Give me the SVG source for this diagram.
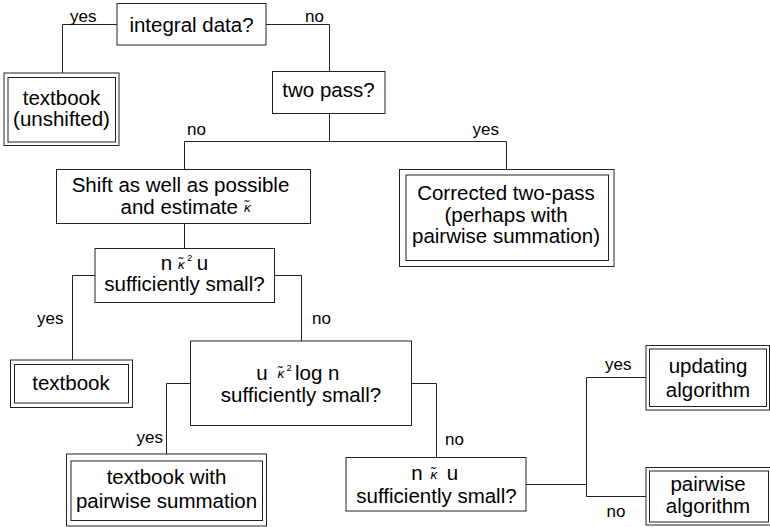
<svg xmlns="http://www.w3.org/2000/svg" width="770" height="527" viewBox="0 0 770 527">
<style>
rect{fill:#fff;stroke:#222;stroke-width:1}
.c path{fill:none;stroke:#222;stroke-width:1}
text{font-family:"Liberation Sans",Arial,sans-serif;fill:#000}
.t{font-size:20.5px;text-anchor:middle}
.l{font-size:17px}
.k{font-size:13.5px;font-style:italic}
.s{font-size:9.5px}
</style>
<rect x="0" y="0" width="770" height="527" style="stroke:none"/>
<g class="c" id="connectors">
<path d="M117,24.5H62.5V73"/>
<path d="M266,24.5H329.5V71.5"/>
<path d="M329.5,113.5V141.5"/>
<path d="M184.5,141.5H506.5V169.5"/>
<path d="M184.5,141.5V169.5"/>
<path d="M184.5,223.5V248.5"/>
<path d="M95,275.5H72.5V360"/>
<path d="M274.5,275.5H301.5V341"/>
<path d="M190.5,383.5H166.5V454"/>
<path d="M411.5,383.5H436.5V457.5"/>
<path d="M526,484.5H586.5"/>
<path d="M646,377.5H586.5V496.5H646"/>
</g>
<g id="labels">
<text class="l" x="70" y="21.5">yes</text>
<text class="l" x="305" y="21.5">no</text>
<text class="l" x="187" y="135">no</text>
<text class="l" x="472.5" y="134.5">yes</text>
<text class="l" x="37" y="323.5">yes</text>
<text class="l" x="312" y="323.5">no</text>
<text class="l" x="136.5" y="443">yes</text>
<text class="l" x="445" y="445">no</text>
<text class="l" x="605" y="369.5">yes</text>
<text class="l" x="606.5" y="517">no</text>
</g>
<g id="integral">
<rect x="117" y="3.5" width="149" height="41.5"/>
<text class="t" x="191.5" y="31.5">integral data?</text>
</g>
<g id="textbook-unshifted">
<rect x="4" y="73" width="115" height="72.5"/>
<rect x="8" y="77.5" width="107.5" height="64.5"/>
<text class="t" x="61.5" y="104.5">textbook</text>
<text class="t" x="61.5" y="126">(unshifted)</text>
</g>
<g id="two-pass">
<rect x="272.5" y="71.5" width="112.5" height="42"/>
<text class="t" x="328.5" y="97">two pass?</text>
</g>
<g id="shift">
<rect x="56.5" y="169.5" width="254" height="54"/>
<text class="t" x="180.5" y="191.5">Shift as well as possible</text>
<text class="t" x="120.5" y="213.5" style="text-anchor:start">and estimate</text>
<text class="k" x="244" y="212">κ̃</text>
</g>
<g id="corrected">
<rect x="399.5" y="169.5" width="214.5" height="97"/>
<rect x="406" y="175" width="202.5" height="85.5"/>
<text class="t" x="506" y="200">Corrected two-pass</text>
<text class="t" x="506" y="221.7">(perhaps with</text>
<text class="t" x="506" y="243.3">pairwise summation)</text>
</g>
<g id="nk2u">
<rect x="95" y="248.5" width="179.5" height="54"/>
<text class="t" x="166.5" y="270">n</text>
<text class="k" x="178" y="268.5">κ̃</text>
<text class="s" x="187" y="261">2</text>
<text class="t" x="202.5" y="270">u</text>
<text class="t" x="184.5" y="291">sufficiently small?</text>
</g>
<g id="textbook">
<rect x="10.5" y="360" width="122" height="47.5"/>
<rect x="14.5" y="364.5" width="114" height="38.5"/>
<text class="t" x="71" y="389.5">textbook</text>
</g>
<g id="uk2logn">
<rect x="190.5" y="341" width="221" height="84.5"/>
<text class="t" x="262" y="379.5">u</text>
<text class="k" x="277.5" y="378">κ̃</text>
<text class="s" x="286.5" y="370.5">2</text>
<text class="t" x="295" y="379.5" style="text-anchor:start">log n</text>
<text class="t" x="301" y="401.7">sufficiently small?</text>
</g>
<g id="textbook-pairwise">
<rect x="66.5" y="454" width="200" height="72"/>
<rect x="71" y="461" width="191.5" height="59.5"/>
<text class="t" x="166.5" y="484.3">textbook with</text>
<text class="t" x="166.5" y="507.7">pairwise summation</text>
</g>
<g id="nku">
<rect x="346" y="457.5" width="180" height="53.5"/>
<text class="t" x="417" y="480">n</text>
<text class="k" x="430.5" y="478.5">κ̃</text>
<text class="t" x="452.5" y="480">u</text>
<text class="t" x="436.5" y="502.7">sufficiently small?</text>
</g>
<g id="updating">
<rect x="646" y="345.5" width="123.5" height="64.5"/>
<rect x="649.5" y="349" width="117" height="57.5"/>
<text class="t" x="708" y="373.3">updating</text>
<text class="t" x="708" y="396.7">algorithm</text>
</g>
<g id="pairwise">
<rect x="646" y="467.5" width="126" height="57.5"/>
<rect x="649.5" y="471" width="119" height="51"/>
<text class="t" x="708" y="491">pairwise</text>
<text class="t" x="708" y="513.3">algorithm</text>
</g>
</svg>
